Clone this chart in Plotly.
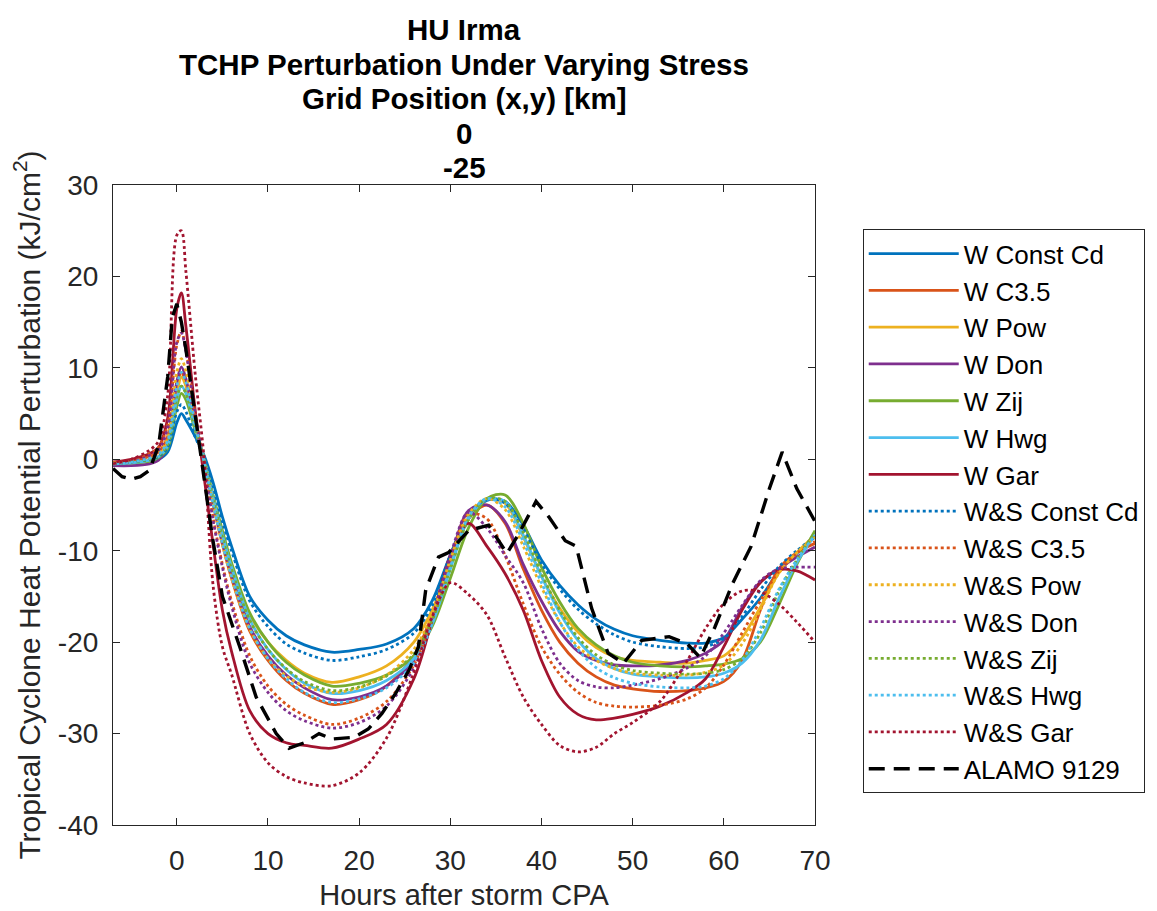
import plotly.graph_objects as go

# Hours after storm CPA (knots shared by the model series)
hours = [-7, -5, -3, -2, -1, 0, 0.5, 1, 2, 3, 4, 5, 6, 8, 10, 12, 14, 17, 20, 23, 26, 28,
         30, 32, 34, 36, 38, 40, 42, 44, 46, 48, 50, 53, 56, 58, 60, 62, 64, 66, 68, 70]

w_const_cd = [-0.5, -0.4, -0.2, 0.0, 0.8, 4.0, 5.0, 4.3, 2.5, 0.4, -2.6, -6.3, -9.5, -15.0, -17.6, -19.3, -20.3, -21.1, -20.8, -20.2, -18.5, -15.5,
              -10.5, -6.5, -4.5, -4.6, -7.2, -11.0, -13.8, -15.9, -17.5, -18.6, -19.3, -19.8, -20.1, -20.1, -19.5, -17.5, -15.2, -12.3, -10.3, -8.5]
w_c35 = [-0.5, -0.2, 0.3, 0.8, 2.5, 8.0, 9.5, 8.2, 3.5, -0.5, -5.0, -9.3, -13.0, -18.8, -22.0, -24.2, -25.6, -26.8, -26.3, -24.8, -21.5, -17.0,
         -11.0, -6.5, -5.0, -7.0, -12.0, -16.5, -20.0, -22.3, -23.8, -24.7, -25.1, -25.4, -25.3, -25.0, -24.3, -22.0, -16.5, -12.0, -10.2, -9.2]
w_pow = [-0.5, -0.4, -0.1, 0.3, 1.8, 7.2, 9.0, 8.0, 3.8, 0.0, -4.2, -8.0, -11.5, -17.0, -20.0, -22.0, -23.4, -24.4, -23.8, -22.6, -20.0, -16.5,
         -11.5, -6.5, -4.3, -4.8, -8.5, -12.8, -16.3, -18.9, -20.6, -21.6, -22.0, -22.2, -22.3, -22.0, -21.5, -19.5, -16.2, -12.5, -10.2, -8.3]
w_don = [-0.7, -0.7, -0.5, -0.1, 1.5, 8.5, 10.1, 8.8, 4.0, -0.3, -4.8, -9.0, -12.5, -18.3, -21.5, -23.6, -25.0, -26.3, -26.0, -24.8, -22.0, -17.5,
         -11.0, -5.6, -5.0, -6.8, -11.5, -15.5, -18.8, -21.0, -22.0, -22.5, -22.6, -22.5, -22.0, -21.2, -19.8, -16.2, -13.4, -12.0, -10.7, -9.6]
w_zij = [-0.5, -0.4, -0.2, 0.2, 1.2, 5.8, 7.2, 6.5, 3.2, 0.0, -4.0, -7.8, -11.3, -16.8, -20.0, -22.2, -23.6, -24.8, -24.5, -23.6, -21.5, -18.3,
         -13.0, -7.5, -4.3, -3.9, -7.0, -11.8, -15.6, -18.5, -20.3, -21.5, -22.2, -22.6, -22.7, -22.6, -22.4, -21.8, -20.0, -16.0, -11.5, -7.8]
w_hwg = [-0.5, -0.4, -0.1, 0.3, 1.5, 6.6, 8.0, 7.2, 3.5, -0.1, -4.3, -8.3, -11.8, -17.5, -20.8, -23.0, -24.5, -25.6, -25.3, -24.2, -21.8, -18.0,
         -12.0, -6.5, -4.4, -4.6, -8.3, -12.8, -16.8, -19.8, -21.8, -22.9, -23.5, -23.8, -23.9, -23.8, -23.4, -22.3, -19.8, -15.3, -11.3, -8.3]
w_gar = [-0.3, 0.0, 0.6, 1.3, 4.5, 16.5, 18.2, 14.5, 5.5, -2.0, -9.5, -16.5, -21.0, -27.5, -30.0, -31.0, -31.3, -31.6, -30.6, -29.0, -24.0, -17.6,
         -10.5, -7.0, -9.5, -12.5, -16.5, -22.0, -26.0, -27.9, -28.5, -28.3, -27.9, -27.0, -25.5, -24.0, -20.5, -16.5, -13.5, -12.1, -12.2, -13.2]
ws_const_cd = [-0.5, -0.3, 0.0, 0.3, 1.3, 5.2, 6.0, 5.2, 2.5, 0.2, -3.0, -6.8, -10.0, -15.5, -18.3, -20.2, -21.2, -22.0, -21.6, -20.8, -19.0, -16.0,
               -10.5, -6.0, -4.4, -4.8, -7.6, -11.4, -14.2, -16.4, -18.0, -19.2, -20.0, -20.5, -20.7, -20.5, -19.6, -17.2, -14.3, -11.8, -10.0, -8.5]
ws_c35 = [-0.5, -0.1, 0.6, 1.3, 3.8, 12.5, 14.0, 12.0, 5.0, -0.5, -6.5, -11.5, -15.5, -21.5, -24.8, -26.8, -28.0, -29.0, -28.3, -26.5, -22.5, -17.5,
          -11.0, -6.0, -6.5, -10.5, -15.8, -20.5, -23.5, -25.5, -26.6, -27.0, -27.1, -26.9, -26.2, -25.0, -22.5, -19.0, -15.5, -12.3, -10.3, -9.0]
ws_pow = [-0.4, -0.2, 0.2, 0.7, 2.5, 9.5, 11.0, 9.6, 4.3, -0.2, -5.0, -9.3, -13.0, -18.6, -21.8, -23.7, -24.8, -25.5, -25.0, -23.6, -20.8, -17.0,
          -11.0, -6.0, -4.3, -5.5, -9.5, -14.0, -17.8, -20.5, -22.0, -22.9, -23.4, -23.6, -23.6, -23.3, -22.5, -20.2, -16.5, -12.5, -10.2, -8.5]
ws_don = [-0.5, -0.3, 0.4, 1.0, 3.5, 12.8, 13.8, 11.8, 5.0, -0.5, -6.8, -11.8, -16.0, -22.3, -25.5, -27.5, -28.6, -29.4, -28.8, -27.0, -22.8, -17.5,
          -10.5, -5.8, -7.5, -10.5, -13.5, -18.5, -22.3, -24.2, -24.9, -25.0, -24.7, -24.0, -22.8, -21.5, -19.0, -16.0, -13.3, -12.0, -11.8, -11.8]
ws_zij = [-0.5, -0.3, 0.0, 0.4, 1.6, 6.8, 8.0, 7.2, 3.5, -0.2, -4.5, -8.5, -12.0, -17.6, -20.8, -22.9, -24.3, -25.3, -24.9, -23.7, -21.3, -17.6,
          -12.0, -6.6, -4.3, -4.6, -8.0, -12.5, -16.5, -19.5, -21.4, -22.5, -23.1, -23.4, -23.5, -23.4, -23.0, -21.8, -19.0, -14.5, -11.0, -8.0]
ws_hwg = [-0.5, -0.3, 0.1, 0.5, 2.0, 8.0, 9.5, 8.4, 4.0, -0.3, -5.0, -9.2, -12.8, -18.5, -21.8, -24.0, -25.5, -26.6, -26.2, -25.0, -22.3, -18.0,
          -11.8, -6.3, -4.3, -5.2, -9.0, -13.5, -17.8, -20.8, -22.8, -23.9, -24.5, -24.9, -25.0, -24.8, -24.0, -22.0, -18.5, -14.3, -11.0, -8.3]
ws_gar = [-0.5, 0.0, 1.0, 2.0, 7.0, 24.5, 25.0, 20.5, 9.5, 0.0, -14.0, -20.5, -23.5, -30.0, -33.2, -34.7, -35.4, -35.7, -34.3, -30.5, -23.3, -17.3,
          -13.5, -14.8, -17.0, -21.6, -26.0, -29.0, -31.3, -32.0, -31.5, -30.0, -28.8, -26.5, -22.0, -18.5, -15.8, -14.4, -14.5, -15.8, -17.8, -20.0]

# ALAMO float 9129 observations
alamo_hours = [-7, -6, -5, -4, -3, -2, -1, -0.5, 0, 0.5, 1, 2, 3, 3.9, 5, 6.9, 8.7, 10.9, 12.3, 14, 15.6, 17, 19.5,
               21, 22.5, 24, 25.5, 26.5, 27.3, 28.7, 29.8, 32, 34.2, 36.2, 37.6, 39.4, 40.8, 42.6, 43.8, 45.5, 47.3,
               49, 51, 54, 56, 57.4, 59, 61, 63, 65, 66.4, 68, 70]
alamo_tchp = [-1.0, -1.9, -2.2, -1.9, -1.2, 1.5, 9.0, 15.5, 17.0, 15.0, 12.0, 5.0, -2.0, -8.5, -15.0, -20.5, -26.0, -30.0, -31.6, -31.0, -30.0, -30.6, -30.4,
              -29.5, -27.8, -25.6, -23.0, -20.5, -14.3, -10.7, -10.2, -7.8, -7.2, -10.3, -8.0, -4.6, -6.3, -8.9, -9.5, -16.3, -21.2,
              -22.3, -19.8, -19.4, -20.2, -21.7, -18.4, -13.5, -9.5, -3.2, 0.8, -3.2, -6.8]

labels = ["W Const Cd", "W C3.5", "W Pow", "W Don", "W Zij", "W Hwg", "W Gar",
          "W&S Const Cd", "W&S C3.5", "W&S Pow", "W&S Don", "W&S Zij", "W&S Hwg", "W&S Gar"]
series = [w_const_cd, w_c35, w_pow, w_don, w_zij, w_hwg, w_gar,
          ws_const_cd, ws_c35, ws_pow, ws_don, ws_zij, ws_hwg, ws_gar]
colors = ["#0072BD", "#D95319", "#EDB120", "#7E2F8E", "#77AC30", "#4DBEEE", "#A2142F"]

title_lines = ["HU Irma", "TCHP Perturbation Under Varying Stress", "Grid Position (x,y) [km]", "0", "-25"]

x_ticks = [0, 10, 20, 30, 40, 50, 60, 70]
y_ticks = [-40, -30, -20, -10, 0, 10, 20, 30]
y_ticktext = ["-40", "-30", "-20", "-10", "0", "10", "20", "30"]

FONT = "Arial, Liberation Sans, Helvetica, sans-serif"
TXT = "#262626"
fig = go.Figure()
for i, (lab, ys) in enumerate(zip(labels, series)):
    dotted = i >= 7
    fig.add_trace(go.Scatter(
        x=hours, y=ys, name=lab, mode="lines",
        line=dict(color=colors[i % 7], width=2.8, shape="spline", smoothing=0.9,
                  dash="dot" if dotted else "solid"),
    ))
fig.add_trace(go.Scatter(
    x=alamo_hours, y=alamo_tchp, name="ALAMO 9129", mode="lines",
    line=dict(color="black", width=3.4, dash="16px,9px"),
))

axis_common = dict(showline=True, linecolor=TXT, linewidth=1.2, mirror="ticks",
                   ticks="inside", ticklen=7, tickcolor=TXT, showgrid=False, zeroline=False,
                   automargin=False, tickfont=dict(family=FONT, size=28, color=TXT))
fig.update_xaxes(range=[-7, 70], tickvals=x_ticks, ticklabelstandoff=10,
                 title=dict(text="Hours after storm CPA", font=dict(family=FONT, size=29, color=TXT), standoff=16),
                 **axis_common)
fig.update_yaxes(range=[-40, 30], tickvals=y_ticks, ticktext=y_ticktext, ticklabelstandoff=8,
                 title=dict(text="Tropical Cyclone Heat Potential Perturbation (kJ/cm<sup>2</sup>)",
                            font=dict(family=FONT, size=30, color=TXT), standoff=14),
                 **axis_common)

# title lines, centred over the axes
plot_h = 640
annots = []
for k, line in enumerate(title_lines):
    yc = 29.5 + 34.6 * k
    annots.append(dict(text="<b>" + line + "</b>", xref="paper", yref="paper",
                       x=0.5, y=1 + (185 - yc) / plot_h, xanchor="center", yanchor="middle",
                       showarrow=False, font=dict(family=FONT, size=29.5, color="black")))

fig.update_layout(
    width=1149, height=903,
    margin=dict(l=105, r=339, t=177, b=86),
    paper_bgcolor="white", plot_bgcolor="white",
    annotations=annots,
    legend=dict(x=1.068, y=0.931, xanchor="left", yanchor="top",
                font=dict(family=FONT, size=26, color="black"),
                bgcolor="white", bordercolor=TXT, borderwidth=1,
                itemwidth=90, tracegroupgap=0),
    showlegend=True,
)
fig.write_html("out.html")
